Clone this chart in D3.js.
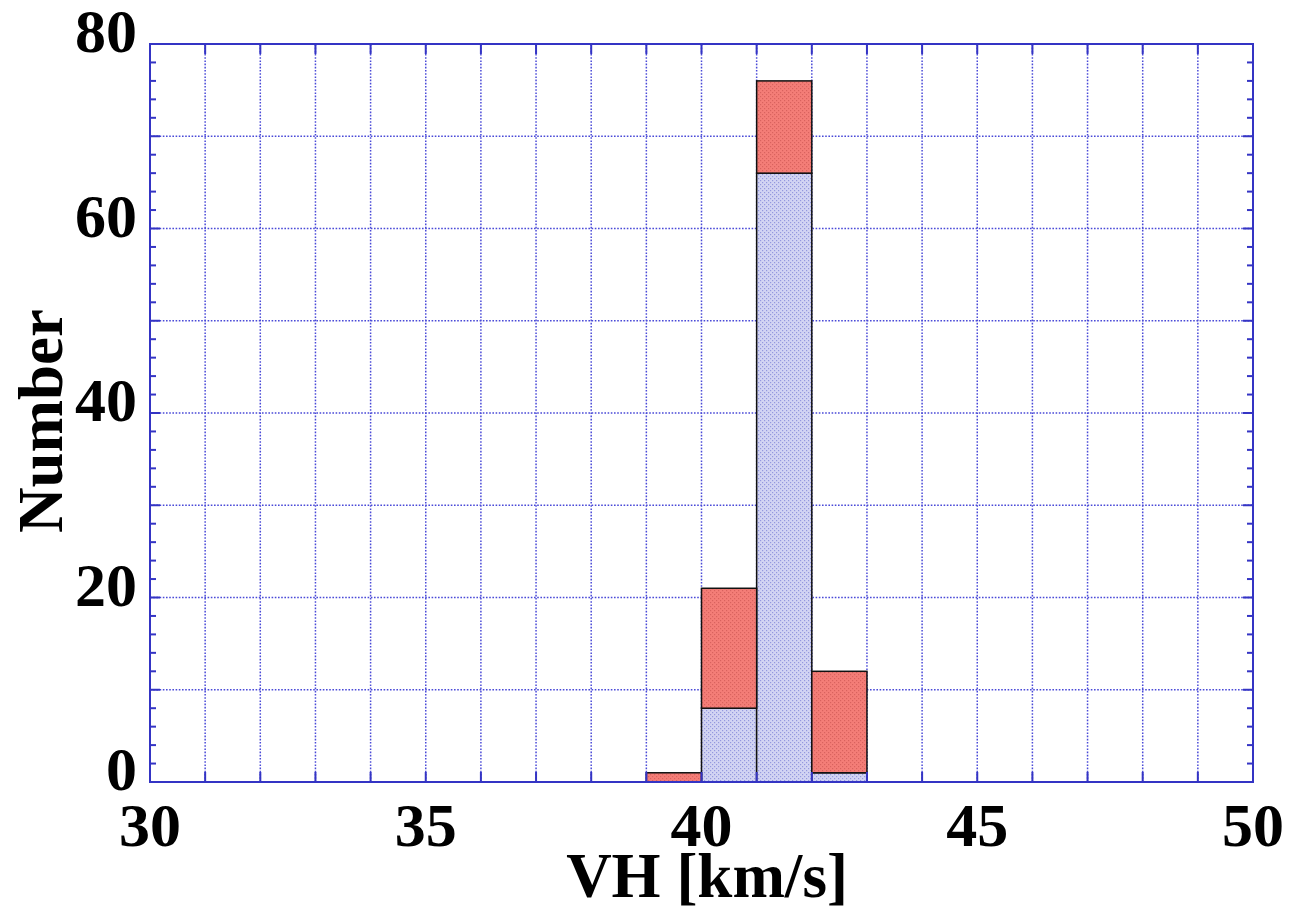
<!DOCTYPE html>
<html>
<head>
<meta charset="utf-8">
<script src="https://cdn.jsdelivr.net/npm/d3@7"></script>
<style>
  html, body { margin: 0; padding: 0; background: #fff; }
  svg { display: block; }
</style>
</head>
<body>
<svg id="chart" width="1303" height="911"></svg>
<script>
// Histogram bins (left edge, width 1 km/s)
const binStarts = [39, 40, 41, 42];
// Lower (blue) component counts per bin
const blueCounts = [0, 8, 66, 1];
// Upper (red) component counts per bin, stacked on the blue
const redCounts = [1, 13, 10, 11];
const binWidth = 1;

const xTicks = [30, 35, 40, 45, 50];
const yTicks = [0, 20, 40, 60, 80];

const W = 1303, H = 911;
const m = { left: 150, right: 50, top: 44, bottom: 129 };
const svg = d3.select("#chart");
const x = d3.scaleLinear().domain([30, 50]).range([m.left, W - m.right]);
const y = d3.scaleLinear().domain([0, 80]).range([H - m.bottom, m.top]);

const axisColor = "#3434c4";
const gridColor = "#4a4ad8";
const font = "'Liberation Serif', 'Times New Roman', serif";

// Stipple patterns for the two bar fills
const defs = svg.append("defs");
function stipple(id, base, dot) {
  const p = defs.append("pattern").attr("id", id)
    .attr("patternUnits", "userSpaceOnUse").attr("width", 4).attr("height", 4);
  p.append("rect").attr("width", 4).attr("height", 4).attr("fill", base);
  p.append("rect").attr("x", 0).attr("y", 0).attr("width", 1.2).attr("height", 1.2).attr("fill", dot);
  p.append("rect").attr("x", 2).attr("y", 2).attr("width", 1.2).attr("height", 1.2).attr("fill", dot);
}
stipple("redDots", "#f47d77", "#d9625e");
stipple("blueDots", "#d2d4f3", "#9498de");

// Dotted grid
const grid = svg.append("g");
grid.selectAll("line.v").data(d3.range(31, 50)).join("line")
  .attr("x1", d => x(d)).attr("x2", d => x(d))
  .attr("y1", y(0)).attr("y2", y(80))
  .attr("stroke", gridColor).attr("stroke-width", 1.5)
  .attr("stroke-dasharray", "1.6,1.6");
grid.selectAll("line.h").data(d3.range(10, 80, 10)).join("line")
  .attr("x1", x(30)).attr("x2", x(50))
  .attr("y1", d => y(d)).attr("y2", d => y(d))
  .attr("stroke", gridColor).attr("stroke-width", 1.5)
  .attr("stroke-dasharray", "1.6,1.6");

// Stacked bars
const stackData = binStarts.map((b, i) => ({ bin: b, blue: blueCounts[i], red: redCounts[i] }));
const series = d3.stack().keys(["blue", "red"])(stackData);
const fills = { blue: "url(#blueDots)", red: "url(#redDots)" };
const bars = svg.append("g");
series.forEach(s => {
  bars.selectAll(null).data(s.filter(d => d[1] > d[0])).join("rect")
    .attr("x", d => x(d.data.bin))
    .attr("width", d => x(d.data.bin + binWidth) - x(d.data.bin))
    .attr("y", d => y(d[1]))
    .attr("height", d => y(d[0]) - y(d[1]))
    .attr("fill", fills[s.key])
    .attr("stroke", "#111").attr("stroke-width", 1.5);
});

// Ticks (inward) on all four sides
const ticks = svg.append("g").attr("stroke", axisColor).attr("stroke-width", 2);
d3.range(31, 50).forEach(v => {
  ticks.append("line").attr("x1", x(v)).attr("x2", x(v)).attr("y1", y(0)).attr("y2", y(0) - 10);
  ticks.append("line").attr("x1", x(v)).attr("x2", x(v)).attr("y1", y(80)).attr("y2", y(80) + 10);
});
d3.range(2, 80, 2).forEach(v => {
  const len = v % 10 === 0 ? 10 : 6;
  ticks.append("line").attr("x1", x(30)).attr("x2", x(30) + len).attr("y1", y(v)).attr("y2", y(v));
  ticks.append("line").attr("x1", x(50)).attr("x2", x(50) - len).attr("y1", y(v)).attr("y2", y(v));
});

// Frame
svg.append("rect")
  .attr("x", x(30)).attr("y", y(80))
  .attr("width", x(50) - x(30)).attr("height", y(0) - y(80))
  .attr("fill", "none").attr("stroke", axisColor).attr("stroke-width", 2);

// Tick labels
svg.append("g").selectAll("text").data(xTicks).join("text")
  .attr("x", d => x(d)).attr("y", y(0) + 64)
  .attr("text-anchor", "middle")
  .attr("font-family", font).attr("font-weight", "bold").attr("font-size", 62)
  .text(d => d);
svg.append("g").selectAll("text").data(yTicks).join("text")
  .attr("x", 137).attr("y", d => y(d) + 8)
  .attr("text-anchor", "end")
  .attr("font-family", font).attr("font-weight", "bold").attr("font-size", 62)
  .text(d => d);

// Axis titles
svg.append("text")
  .attr("x", 707).attr("y", 897)
  .attr("text-anchor", "middle")
  .attr("font-family", font).attr("font-weight", "bold").attr("font-size", 63)
  .text("VH [km/s]");
svg.append("text")
  .attr("transform", `translate(62,421) rotate(-90)`)
  .attr("text-anchor", "middle")
  .attr("font-family", font).attr("font-weight", "bold").attr("font-size", 63)
  .text("Number");
</script>
</body>
</html>
